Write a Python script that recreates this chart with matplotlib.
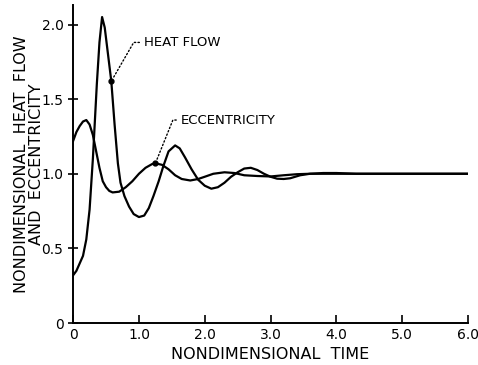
import matplotlib.pyplot as plt

# values
heat_t = [0.00, 0.05, 0.10, 0.15, 0.20, 0.25, 0.30, 0.33, 0.36, 0.40, 0.44,
          0.48, 0.53, 0.58, 0.63, 0.68, 0.72, 0.78, 0.85, 0.92, 1.00, 1.08,
          1.15, 1.22, 1.30, 1.37, 1.45, 1.55, 1.62, 1.70, 1.80, 1.90, 2.00,
          2.10, 2.20, 2.30, 2.40, 2.50, 2.60, 2.70, 2.80, 2.90, 3.00, 3.10,
          3.20, 3.30, 3.45, 3.60, 3.80, 4.00, 4.30, 5.00, 6.00]
heat_v = [0.32, 0.35, 0.40, 0.45, 0.56, 0.76, 1.10, 1.35, 1.60, 1.88, 2.05,
          1.98, 1.80, 1.62, 1.33, 1.07, 0.94, 0.85, 0.78, 0.73, 0.71, 0.72,
          0.77, 0.85, 0.95, 1.05, 1.15, 1.19, 1.17, 1.11, 1.03, 0.96, 0.92,
          0.90, 0.91, 0.94, 0.98, 1.01, 1.035, 1.04, 1.025, 1.00, 0.98, 0.967,
          0.965, 0.97, 0.99, 1.00, 1.005, 1.005, 1.00, 1.00, 1.00]

ecc_t = [0.00, 0.05, 0.10, 0.15, 0.20, 0.25, 0.30, 0.35, 0.40, 0.45, 0.50,
         0.55, 0.60, 0.70, 0.80, 0.90, 1.00, 1.10, 1.20, 1.25, 1.35, 1.45,
         1.55, 1.65, 1.78, 1.90, 2.00, 2.13, 2.30, 2.45, 2.60, 2.80, 3.00,
         3.20, 3.40, 3.60, 4.50, 6.00]
ecc_v = [1.22, 1.28, 1.32, 1.35, 1.36, 1.33, 1.26, 1.15, 1.04, 0.95, 0.91,
         0.885, 0.875, 0.88, 0.91, 0.95, 1.00, 1.04, 1.065, 1.07, 1.06, 1.03,
         0.99, 0.965, 0.955, 0.965, 0.98, 1.00, 1.01, 1.005, 0.99, 0.985, 0.982,
         0.99, 0.997, 1.00, 1.00, 1.00]

x_ticks = [0, 1, 2, 3, 4, 5, 6]
x_labels = ["0", "1.0", "2.0", "3.0", "4.0", "5.0", "6.0"]
y_ticks = [0, 0.5, 1.0, 1.5, 2.0]
y_labels = ["0", "0.5", "1.0", "1.5", "2.0"]

fig = plt.figure(figsize=(4.78, 3.65), dpi=100)
ax = fig.add_axes([0.153, 0.115, 0.826, 0.871])

ax.plot(heat_t, heat_v, color="black", lw=1.6)
ax.plot(ecc_t, ecc_v, color="black", lw=1.6)

ax.set_xlim(0, 6.0)
ax.set_ylim(0, 2.13)
ax.spines["top"].set_visible(False)
ax.spines["right"].set_visible(False)
ax.spines["left"].set_linewidth(1.4)
ax.spines["bottom"].set_linewidth(1.4)
ax.set_xticks(x_ticks)
ax.set_xticklabels(x_labels)
ax.set_yticks(y_ticks)
ax.set_yticklabels(y_labels)
ax.tick_params(axis="x", direction="in", length=6, width=1.2, labelsize=10)
ax.tick_params(axis="y", direction="inout", length=7, width=1.2, labelsize=10)

ax.set_xlabel("NONDIMENSIONAL  TIME", fontsize=11.5, labelpad=4)
ax.set_ylabel("NONDIMENSIONAL  HEAT  FLOW\nAND  ECCENTRICITY", fontsize=11.5,
              linespacing=1.0)
ax.yaxis.set_label_coords(-0.075, 0.5)

# leader labels pointing at the curves
i = heat_t.index(0.58)
ax.plot(heat_t[i], heat_v[i], "o", color="black", ms=3.5)
ax.annotate("HEAT FLOW", xy=(heat_t[i], heat_v[i]), xytext=(1.07, 1.88),
            fontsize=9.5, va="center", ha="left",
            arrowprops=dict(arrowstyle="-", linestyle=":", lw=1.0,
                            relpos=(0, 0.5), shrinkA=1, shrinkB=2,
                            connectionstyle="angle,angleA=0,angleB=60,rad=0"))
j = ecc_t.index(1.25)
ax.plot(ecc_t[j], ecc_v[j], "o", color="black", ms=3.5)
ax.annotate("ECCENTRICITY", xy=(ecc_t[j], ecc_v[j]), xytext=(1.63, 1.36),
            fontsize=9.5, va="center", ha="left",
            arrowprops=dict(arrowstyle="-", linestyle=":", lw=1.0,
                            relpos=(0, 0.5), shrinkA=1, shrinkB=2,
                            connectionstyle="angle,angleA=0,angleB=68,rad=0"))

fig.savefig("out.png", dpi=100, facecolor="white")
